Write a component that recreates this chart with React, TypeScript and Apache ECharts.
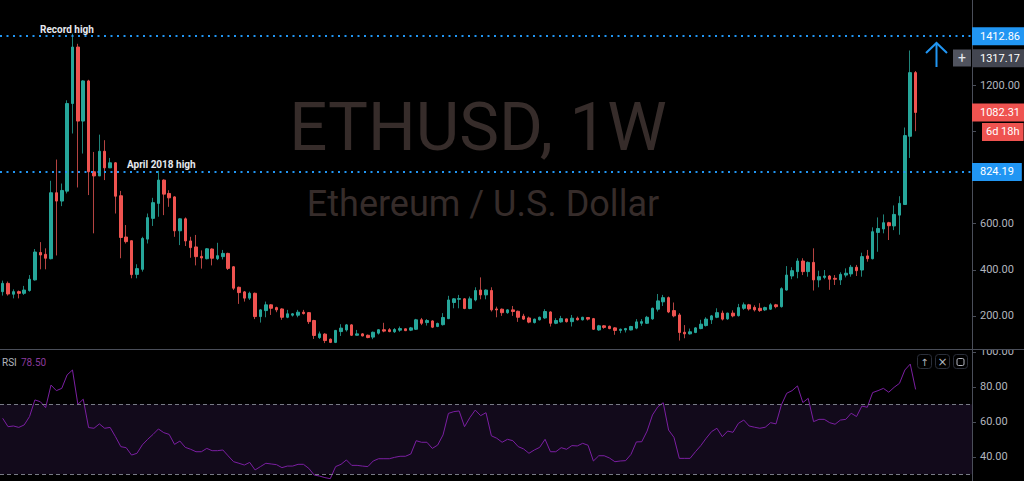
import React, { useEffect, useRef } from 'react';
import * as echarts from 'echarts';

// Weekly ETHUSD candles (Oct 2017 - Jan 2021)
const opens = [305,341,294,305,298,310,356,475,467,448,734,698,741,1121,1366,1045,1219,825,807,914,842,864,721,542,526,380,402,533,623,688,789,731,716,569,621,525,499,458,448,490,448,457,471,413,324,304,277,298,197,223,248,236,230,194,203,203,216,214,180,106,121,99,85,132,139,161,116,122,116,108,125,140,140,131,138,144,138,142,183,171,178,154,162,188,258,272,274,232,269,312,291,310,230,229,214,226,220,199,191,171,183,191,217,168,174,187,175,190,183,193,188,139,157,155,148,137,139,139,147,168,168,187,229,261,279,223,204,129,122,128,145,158,183,194,212,187,212,201,233,248,237,233,226,229,248,240,312,373,392,438,392,432,356,367,373,363,356,377,382,411,399,460,448,562,577,604,590,637,683,979,1255];
const closes = [341,295,305,298,312,359,477,464,450,734,698,744,1121,1366,1045,1219,825,807,914,842,864,719,540,522,379,405,536,626,691,789,728,712,569,621,525,496,457,451,491,450,461,471,406,320,301,277,298,197,226,248,233,226,194,209,209,216,210,175,115,122,93,85,137,147,161,116,122,113,106,129,140,134,132,141,145,136,148,183,168,180,151,167,193,269,274,275,232,274,310,291,312,226,226,214,226,219,194,186,173,186,194,219,168,180,188,175,190,183,194,186,142,157,150,145,137,142,145,154,174,175,194,233,265,279,217,200,128,122,131,148,164,186,200,214,186,212,200,236,248,230,226,223,236,248,240,318,377,396,438,392,432,356,370,373,359,359,380,385,411,396,457,448,565,579,604,591,640,688,982,1255,1082.31];
const lows = [288,288,276,276,291,305,353,402,402,445,462,676,731,991,757,904,724,558,807,789,842,644,450,514,363,363,392,514,590,630,637,673,543,507,503,452,419,405,445,419,442,445,399,312,252,262,269,186,171,194,204,216,183,190,197,194,206,165,100,100,82,82,82,113,132,113,115,111,103,99,119,129,129,126,131,134,134,139,160,158,147,151,158,186,233,233,229,229,263,272,272,219,194,200,209,200,174,183,168,167,180,187,154,164,170,171,154,180,180,180,139,135,144,142,118,125,128,137,142,157,165,183,219,243,212,194,93,103,119,125,142,154,165,190,180,183,194,197,226,223,219,217,221,226,233,236,310,359,363,377,370,310,324,359,313,334,334,367,370,373,370,435,445,478,558,529,572,552,683,885,1001];
const highs = [353,349,315,310,330,377,490,520,493,786,878,774,1135,1424,1380,1222,1224,911,986,962,885,867,742,594,526,424,543,644,712,829,792,745,719,623,627,543,551,484,494,493,517,486,474,416,327,308,305,301,229,262,251,240,233,226,212,226,226,216,183,132,125,102,139,164,165,164,139,125,119,132,142,170,147,147,154,145,152,187,191,186,181,171,212,287,277,291,277,284,324,367,315,324,240,232,229,243,223,209,197,188,197,229,220,190,200,188,204,197,196,194,191,161,160,158,151,145,148,157,186,186,200,236,295,291,284,258,212,160,145,151,183,194,204,233,223,214,224,252,258,252,246,255,240,255,252,324,416,411,450,450,436,493,396,399,377,377,389,406,421,421,474,486,584,627,640,608,679,719,1017,1351,1262];
const rsiValues = [62.0,57.2,57.6,56.8,58.2,63.0,72.5,71.5,68.1,81.0,77.8,79.1,86.8,89.6,70.0,72.9,56.7,56.3,58.8,56.3,56.8,51.5,45.8,45.2,41.0,42.0,46.8,50.0,52.8,55.9,53.8,52.8,47.1,49.0,45.4,44.3,42.9,42.9,44.8,43.5,43.5,43.9,40.5,37.2,36.3,35.3,36.8,32.5,34.4,36.3,35.9,35.5,33.8,34.7,34.7,35.7,35.7,33.4,29.6,29.0,28.1,27.5,34.4,35.7,38.2,35.1,35.1,34.7,34.4,37.6,38.9,38.9,38.9,39.7,40.3,40.3,41.6,49.2,48.3,48.3,44.8,46.7,52.5,64.8,65.8,66.2,57.2,62.4,66.7,63.5,65.2,52.0,50.6,48.3,50.0,49.2,45.8,44.5,42.0,43.9,45.4,50.0,42.9,42.9,45.2,44.3,46.4,46.2,47.7,46.6,37.6,40.6,40.6,39.3,37.2,37.6,37.8,41.4,48.5,48.6,54.7,63.9,68.6,70.9,55.3,51.1,39.1,39.1,39.1,42.9,46.4,50.6,54.4,56.3,51.5,54.7,54.0,59.1,61.0,57.6,56.9,56.3,56.9,59.5,58.8,69.6,76.3,77.8,80.5,71.0,73.4,60.1,61.4,61.4,59.5,58.6,61.0,61.4,64.9,63.0,69.0,68.3,76.7,77.8,79.1,76.9,79.7,82.0,89.6,93.0,78.5];

const priceTicks = [200, 400, 600, 800, 1000, 1200, 1400];
const priceLabels = [200, 400, 600, 1200];
const rsiTicks = [40, 60, 80, 100];
const recordHigh = 1412.86;
const april2018High = 824.19;
const crosshairPrice = 1317.17;
const lastPrice = 1082.31;
const lastRsi = 78.5;
const countdown = '6d 18h';
const weekCount = 181; // includes empty weeks to the right of the last candle
const categories = Array.from({ length: weekCount }, (_, i) =>
  new Date(Date.UTC(2017, 9, 9 + 7 * i)).toISOString().slice(0, 10)
);

const UP = '#26a69a';
const DOWN = '#ef5350';
const FONT = 'Roboto';
const HIDDEN = 'rgba(0,0,0,0)';

export default function App() {
  const ref = useRef<HTMLDivElement>(null);
  useEffect(() => {
    if (!ref.current) return;
    const chart = echarts.init(ref.current, undefined, { renderer: 'svg' });
    const full = opens.map((o, i) => [o, closes[i], lows[i], highs[i]]);
    const bodies = opens.map((o, i) => [o, closes[i], Math.min(o, closes[i]), Math.max(o, closes[i])]);
    const tag = (bg: string, text: string, extra: any = {}) => ({
      show: true,
      position: 'end',
      distance: 0,
      formatter: text,
      backgroundColor: bg,
      color: '#ffffff',
      fontFamily: FONT,
      fontSize: 11,
      lineHeight: 13,
      padding: [3, 8, 2, 8],
      ...extra,
    });
    const gridL = -1.69;
    chart.setOption({
      animation: false,
      backgroundColor: '#000000',
      grid: [
        { left: gridL, right: 52, top: 0, height: 362 },
        { left: gridL, right: 52, top: 351.8, height: 129.2 },
      ],
      xAxis: [
        { type: 'category', data: categories, gridIndex: 0, show: false },
        { type: 'category', data: categories, gridIndex: 1, show: false },
      ],
      yAxis: [
        {
          type: 'value', gridIndex: 0, position: 'right', min: 0, max: 1570,
          axisLine: { show: false },
          splitLine: { show: false },
          axisTick: { show: true, length: 4, customValues: priceTicks, lineStyle: { color: '#4a4e59' } },
          axisLabel: {
            customValues: priceLabels, margin: 8, color: '#b2b5be', fontFamily: FONT, fontSize: 11,
            formatter: (v: number) => v.toFixed(2),
          },
        },
        {
          type: 'value', gridIndex: 1, position: 'right', min: 26.17, max: 100,
          axisLine: { show: false },
          splitLine: { show: false },
          axisTick: { show: true, length: 4, customValues: rsiTicks, lineStyle: { color: '#4a4e59' } },
          axisLabel: {
            customValues: rsiTicks, margin: 8, color: '#b2b5be', fontFamily: FONT, fontSize: 11,
            formatter: (v: number) => v.toFixed(2),
          },
        },
      ],
      series: [
        {
          type: 'candlestick', xAxisIndex: 0, yAxisIndex: 0, data: full, barWidth: 1, z: 2, clip: false,
          itemStyle: { color: '#1f8379', color0: '#b44341', borderColor: '#1f8379', borderColor0: '#b44341', borderWidth: 1 },
        },
        {
          type: 'candlestick', xAxisIndex: 0, yAxisIndex: 0, data: bodies, barWidth: 3, z: 3, clip: false,
          itemStyle: { color: UP, color0: DOWN, borderColor: UP, borderColor0: DOWN, borderWidth: 1 },
          markLine: {
            silent: true, symbol: 'none', z: 5,
            data: [
              { yAxis: recordHigh, lineStyle: { color: '#2196f3', type: [2, 4.5], width: 2 }, label: tag('#2196f3', '1412.86') },
              { yAxis: april2018High, lineStyle: { color: '#2196f3', type: [2, 4.5], width: 2 }, label: tag('#2196f3', '824.19') },
              { yAxis: crosshairPrice, lineStyle: { color: HIDDEN, width: 1 }, label: tag('#434651', '1317.17') },
              { yAxis: lastPrice, lineStyle: { color: HIDDEN, width: 1 }, label: tag(DOWN, '1082.31') },
              { yAxis: lastPrice - 0.01, lineStyle: { color: HIDDEN, width: 1 }, label: tag(DOWN, countdown, { offset: [10, 19.5], padding: [3, 4, 2, 4] }) },
            ],
          },
        },
        {
          type: 'line', xAxisIndex: 1, yAxisIndex: 1, data: [], z: 1, silent: true,
          markArea: { silent: true, itemStyle: { color: '#120a1b' }, data: [[{ yAxis: 30 }, { yAxis: 70 }]] },
          markLine: {
            silent: true, symbol: 'none', label: { show: false },
            lineStyle: { color: '#787b86', type: [4, 3], width: 1 },
            data: [{ yAxis: 70 }, { yAxis: 30 }],
          },
        },
        {
          type: 'line', xAxisIndex: 1, yAxisIndex: 1, data: rsiValues, z: 4, symbol: 'none', silent: true,
          lineStyle: { color: '#7b1fa2', width: 1 },
        },
      ],
      graphic: [
        { type: 'text', z: 0, x: 478, y: 127, style: { text: 'ETHUSD, 1W', fontFamily: FONT, fontSize: 67, fill: '#362c2a', textAlign: 'center', textVerticalAlign: 'middle' } },
        { type: 'text', z: 0, x: 483, y: 204, style: { text: 'Ethereum / U.S. Dollar', fontFamily: FONT, fontSize: 36, fill: '#362c2a', textAlign: 'center', textVerticalAlign: 'middle' } },
        { type: 'text', z: 20, x: 40, y: 29, style: { text: 'Record high', fontFamily: FONT, fontWeight: 'bold', fontSize: 10, fill: '#e6e8ee', textVerticalAlign: 'middle' } },
        { type: 'text', z: 20, x: 127, y: 164, style: { text: 'April 2018 high', fontFamily: FONT, fontWeight: 'bold', fontSize: 10, fill: '#e6e8ee', textVerticalAlign: 'middle' } },
        { type: 'polyline', z: 20, shape: { points: [[926, 53], [936.5, 43], [947, 53]] }, style: { stroke: '#2196f3', lineWidth: 2, fill: null } },
        { type: 'line', z: 20, shape: { x1: 936.5, y1: 43, x2: 936.5, y2: 67 }, style: { stroke: '#2196f3', lineWidth: 2 } },
        { type: 'rect', z: 20, shape: { x: 953, y: 49.5, width: 18, height: 17 }, style: { fill: '#50535e' } },
        { type: 'text', z: 21, x: 962, y: 58, style: { text: '+', fontFamily: FONT, fontSize: 14, fill: '#e6e8ee', textAlign: 'center', textVerticalAlign: 'middle' } },
        { type: 'line', z: 1, shape: { x1: 972.5, y1: 0, x2: 972.5, y2: 481 }, style: { stroke: '#4a4e59', lineWidth: 1 } },
        { type: 'rect', z: 1, shape: { x: 973, y: 338, width: 51, height: 11 }, style: { fill: '#000000' } },
        { type: 'line', z: 1, shape: { x1: 0, y1: 349.5, x2: 1024, y2: 349.5 }, style: { stroke: '#4a4e59', lineWidth: 1 } },
        { type: 'text', z: 20, x: 2, y: 362, style: { text: 'RSI', fontFamily: FONT, fontSize: 10, fill: '#b2b5be', textVerticalAlign: 'middle' } },
        { type: 'text', z: 20, x: 21, y: 362, style: { text: lastRsi.toFixed(2), fontFamily: FONT, fontSize: 10, fill: '#8a3a9c', textVerticalAlign: 'middle' } },
        { type: 'rect', z: 20, shape: { x: 917.5, y: 354.5, width: 14, height: 14, r: 3 }, style: { fill: '#000000', stroke: '#2a2e39', lineWidth: 1 } },
        { type: 'rect', z: 20, shape: { x: 935.5, y: 354.5, width: 14, height: 14, r: 3 }, style: { fill: '#000000', stroke: '#2a2e39', lineWidth: 1 } },
        { type: 'rect', z: 20, shape: { x: 953.5, y: 354.5, width: 14, height: 14, r: 3 }, style: { fill: '#000000', stroke: '#2a2e39', lineWidth: 1 } },
        { type: 'text', z: 21, x: 924.5, y: 362, style: { text: '↑', fontFamily: 'DejaVu Sans', fontSize: 10, fill: '#b2b5be', textAlign: 'center', textVerticalAlign: 'middle' } },
        { type: 'text', z: 21, x: 942.5, y: 362, style: { text: '×', fontFamily: 'DejaVu Sans', fontSize: 12, fill: '#b2b5be', textAlign: 'center', textVerticalAlign: 'middle' } },
        { type: 'rect', z: 21, shape: { x: 957, y: 358.5, width: 7, height: 7, r: 1.5 }, style: { fill: null, stroke: '#b2b5be', lineWidth: 1 } },
      ],
    });
    return () => chart.dispose();
  }, []);
  return (
    <div style={{ position: 'fixed', left: 0, top: 0, width: 1024, height: 481, background: '#000', overflow: 'hidden' }}>
      <div ref={ref} style={{ width: 1024, height: 481 }} />
    </div>
  );
}
